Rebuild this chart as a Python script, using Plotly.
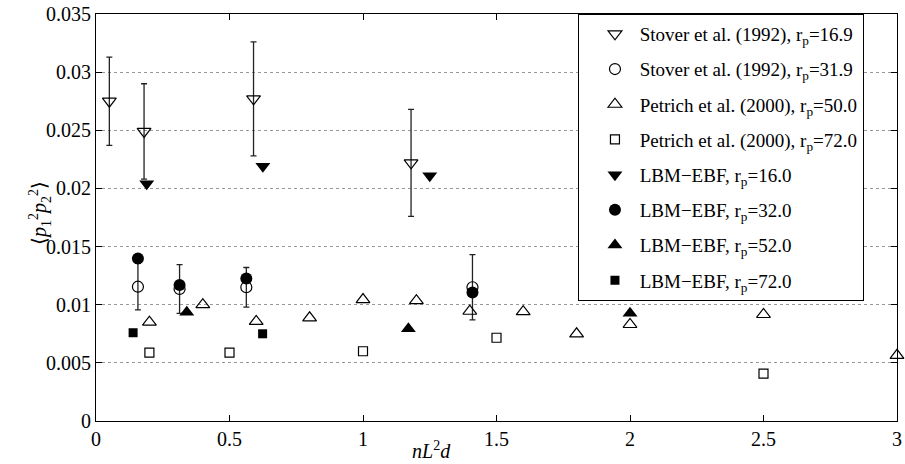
import plotly.graph_objects as go

# ---- data ----
stover169_x = [0.05, 0.18, 0.59, 1.18]
stover169_y = [0.0275, 0.0249, 0.0277, 0.0222]
stover169_err = [0.0038, 0.0041, 0.0049, 0.0046]

stover319_x = [0.157, 0.313, 0.563, 1.41]
stover319_y = [0.01155, 0.01135, 0.0115, 0.0115]
stover319_err = [0.0020, 0.0021, 0.0017, 0.0028]

petrich50_x = [0.2, 0.4, 0.6, 0.8, 1.0, 1.2, 1.4, 1.6, 1.8, 2.0, 2.5, 3.0]
petrich50_y = [0.0085, 0.0100, 0.00856, 0.00887, 0.01044, 0.01035, 0.00944,
               0.0094, 0.0075, 0.0083, 0.00916, 0.00565]

petrich72_x = [0.2, 0.5, 1.0, 1.5, 2.5]
petrich72_y = [0.00588, 0.00588, 0.0060, 0.00716, 0.00408]

lbm16_x = [0.19, 0.625, 1.25]
lbm16_y = [0.0204, 0.0219, 0.0211]
lbm32_x = [0.157, 0.313, 0.563, 1.41]
lbm32_y = [0.01397, 0.0117, 0.01226, 0.01106]
lbm52_x = [0.34, 1.17, 2.0]
lbm52_y = [0.00935, 0.00793, 0.00927]
lbm72_x = [0.139, 0.624]
lbm72_y = [0.00759, 0.0075]

x_ticks = [0, 0.5, 1, 1.5, 2, 2.5, 3]
x_ticktext = ["0", "0.5", "1", "1.5", "2", "2.5", "3"]
y_ticks = [0, 0.005, 0.01, 0.015, 0.02, 0.025, 0.03, 0.035]
y_ticktext = ["0", "0.005", "0.01", "0.015", "0.02", "0.025", "0.03", "0.035"]

names = [
    " Stover et al. (1992), r<sub>p</sub>=16.9",
    " Stover et al. (1992), r<sub>p</sub>=31.9",
    " Petrich et al. (2000), r<sub>p</sub>=50.0",
    " Petrich et al. (2000), r<sub>p</sub>=72.0",
    " LBM\u2212EBF, r<sub>p</sub>=16.0",
    " LBM\u2212EBF, r<sub>p</sub>=32.0",
    " LBM\u2212EBF, r<sub>p</sub>=52.0",
    " LBM\u2212EBF, r<sub>p</sub>=72.0",
]

FONT = "Liberation Serif"
fig = go.Figure()

def err(vals):
    return dict(type="data", array=vals, visible=True, color="#222",
                thickness=1.3, width=3)

def add(x, y, name, symbol, size, i, e=None, filled=False):
    fig.add_trace(go.Scatter(
        x=x, y=y, mode="markers", name=name, legendgroup=f"g{i}",
        marker=dict(symbol=symbol, size=size, color="black",
                    line=dict(color="black", width=0 if filled else 1.2)),
        error_y=err(e) if e is not None else None,
        cliponaxis=False,
    ))

add(stover169_x, stover169_y, names[0], "triangle-down-open", 12, 0, stover169_err)
add(stover319_x, stover319_y, names[1], "circle-open", 11, 1, stover319_err)
add(petrich50_x, petrich50_y, names[2], "triangle-up-open", 12, 2)
add(petrich72_x, petrich72_y, names[3], "square-open", 9, 3)
add(lbm16_x, lbm16_y, names[4], "triangle-down", 13, 4, filled=True)
add(lbm32_x, lbm32_y, names[5], "circle", 12, 5, filled=True)
add(lbm52_x, lbm52_y, names[6], "triangle-up", 13, 6, filled=True)
add(lbm72_x, lbm72_y, names[7], "square", 9, 7, filled=True)

axis_common = dict(showline=True, linecolor="black", linewidth=1, mirror="ticks",
                   ticks="inside", ticklen=6, tickcolor="black", zeroline=False,
                   ticklabeloverflow="allow",
                   tickfont=dict(family=FONT, size=20, color="black"))

fig.update_xaxes(range=[0, 3], tickvals=x_ticks, ticktext=x_ticktext,
                 showgrid=False, **axis_common)
fig.update_yaxes(range=[0, 0.035], tickvals=y_ticks, ticktext=y_ticktext,
                 showgrid=True, gridcolor="#999", griddash="dot", gridwidth=1,
                 **axis_common)

fig.update_layout(
    width=905, height=464,
    margin=dict(l=96, r=3, t=12, b=43),
    paper_bgcolor="white", plot_bgcolor="white",
    font=dict(family=FONT, size=19, color="black"),
    showlegend=True,
    legend=dict(x=0.6017, y=1.0, xanchor="left", yanchor="top",
                bgcolor="white", bordercolor="black", borderwidth=1,
                font=dict(family=FONT, size=19, color="black"),
                tracegroupgap=7.5, indentation=16),
    annotations=[
        dict(text="<i>nL</i><sup>2</sup><i>d</i>", xref="paper", yref="paper",
             x=0.419, y=-0.071, xanchor="center", yanchor="middle",
             showarrow=False, font=dict(family=FONT, size=20)),
        dict(text="\u27e8<i>p</i><sub>1</sub><sup>2</sup><i>p</i><sub>2</sub><sup>2</sup>\u27e9",
             xref="paper", yref="paper", x=-0.07, y=0.511, textangle=-90,
             xanchor="center", yanchor="middle", showarrow=False,
             font=dict(family=FONT, size=20)),
    ],
)

fig.write_html("out.html")
